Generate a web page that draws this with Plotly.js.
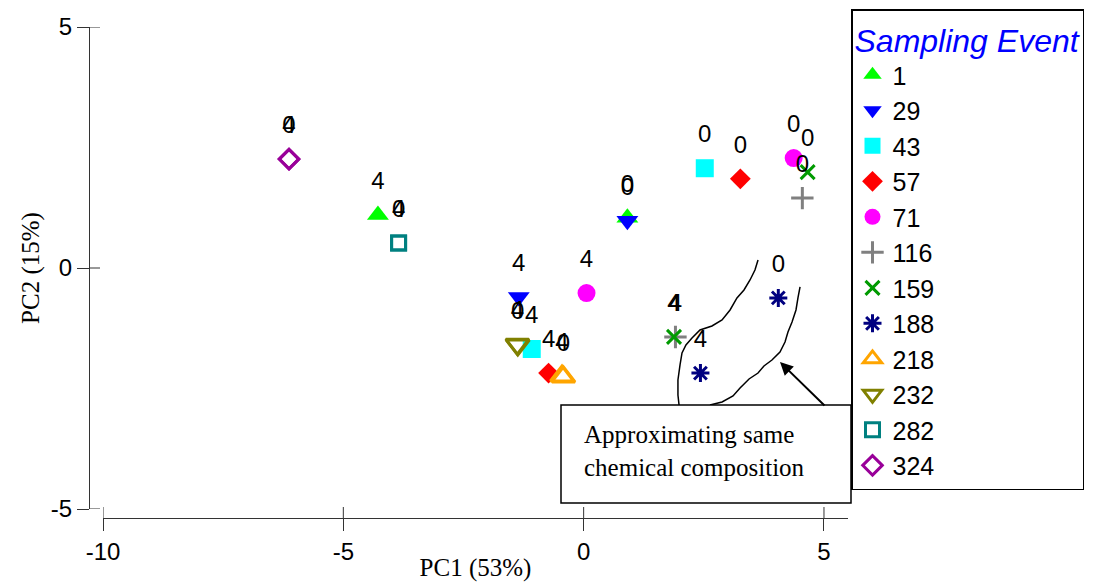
<!DOCTYPE html>
<html>
<head>
<meta charset="utf-8">
<script src="https://cdn.plot.ly/plotly-3.0.1.min.js"></script>
<style>html,body{margin:0;padding:0;background:#fff;}#chart{width:1097px;height:582px;}</style>
</head>
<body>
<div id="chart"></div>
<script>
// ---- data ----
const events   = ['1','29','43','57','71','116','159','188','218','232','282','324'];
const timeLabels = ['0','4'];
const pc1Day0 = [0.91, 0.91, 2.52, 3.26, 4.37, 4.55, 4.66, 4.05, -0.42, -1.37, -3.85, -6.13];
const pc2Day0 = [1.04, 0.98, 2.07, 1.85, 2.28, 1.45, 1.99, -0.62, -2.26, -1.60, 0.52, 2.26];
const pc1Day4 = [-4.28, -1.35, -1.08, -0.73, 0.06, 1.91, 1.88, 2.43, -0.45, -1.38, -3.85, -6.13];
const pc2Day4 = [1.10, -0.60, -1.68, -2.18, -0.52, -1.43, -1.43, -2.18, -2.24, -1.58, 0.52, 2.26];
const xTicks = [-10, -5, 0, 5];
const xTickText = ['-10', '-5', '0', '5'];
const yTicks = [-5, 0, 5];
const yTickText = ['-5', '0', '5'];

// ---- styles ----
const symbols = ['triangle-up','triangle-down','square','diamond','circle','cross-thin-open','x-thin-open','asterisk-open','triangle-up-open','triangle-down-open','square-open','diamond-open'];
const colors  = ['#00ff00','#0000ff','#00ffff','#ff0000','#ff00ff','#808080','#009a00','#000080','#ffa500','#808000','#008080','#990099'];
const sizes   = [19,19,18,16,18,16,14,15,20,20,14,15];
const lineW   = [0,0,0,0,0,3,3,3,3,3,3,3];

const W = 1097, H = 582;
const traces = events.map((ev, i) => ({
  type: 'scatter', mode: 'markers', name: ev, legendgroup: ev,
  x: [pc1Day0[i], pc1Day4[i]], y: [pc2Day0[i], pc2Day4[i]],
  marker: {symbol: symbols[i], size: sizes[i], color: colors[i],
           line: {color: colors[i], width: lineW[i]}},
  hoverinfo: 'x+y+name'
}));
const lx = [], ly = [], lt = [];
events.forEach((ev, i) => {
  lx.push(pc1Day0[i], pc1Day4[i]); ly.push(pc2Day0[i], pc2Day4[i]);
  lt.push(timeLabels[0], timeLabels[1]);
});
traces.push({type:'scatter', mode:'markers+text', x: lx, y: ly, text: lt,
  textposition: 'top center', showlegend: false, hoverinfo: 'skip',
  marker: {size: 30, opacity: 0}, textfont: {family: 'Liberation Sans, Arial', size: 24, color: '#000'}});

// pixel -> paper helper for decorations
const P = (x, y) => (x / W).toFixed(4) + ',' + (1 - y / H).toFixed(4);
const pathOf = pts => 'M' + pts.map(p => P(p[0], p[1])).join('L');
const leftCurve = [[758,260],[755,270],[750,280],[744,290],[737,298],[730,310],[722,320],[712,326],[700,330],[692,338],[686,345],[682,353],[680,365],[678,380],[678,395],[679,405]];
const rightCurve = [[800,287],[798,298],[796,310],[792,322],[788,332],[785,342],[780,352],[772,360],[764,366],[758,373],[749,379],[740,388],[733,396],[722,402],[710,405]];

const xPos = (H - 518) / H, yPos = 89 / W;
const shapes = [
  {type:'path', xref:'paper', yref:'paper', path: pathOf(leftCurve), line:{color:'#000', width:1.5}},
  {type:'path', xref:'paper', yref:'paper', path: pathOf(rightCurve), line:{color:'#000', width:1.5}},
  {type:'rect', xref:'paper', yref:'paper', x0: 561/W, x1: 851/W, y0: 1-503/H, y1: 1-405/H, line:{color:'#000', width:1.5}, fillcolor:'#fff'}
];
xTicks.forEach(v => shapes.push({type:'line', xref:'x', yref:'paper', x0:v, x1:v, y0:xPos, y1:xPos + 11/H, line:{color:'#333', width:1}}));
yTicks.forEach(v => shapes.push({type:'line', xref:'paper', yref:'y', x0:yPos, x1:yPos + 11/W, y0:v, y1:v, line:{color:'#333', width:1}}));

const axFont = {family:'Liberation Sans, Arial', size:24, color:'#000'};
const layout = {
  width: W, height: H, margin:{l:0,r:0,t:0,b:0}, paper_bgcolor:'#fff', plot_bgcolor:'rgba(0,0,0,0)',
  showlegend: true,
  xaxis: {domain:[103/W, 848/W], range:[-10, 5.5], anchor:'free', position:xPos,
    tickvals: xTicks, ticktext: xTickText, ticks:'outside', ticklen:12, tickcolor:'#333', showline:true, linecolor:'#333', linewidth:1.2,
    showgrid:false, zeroline:false, tickfont: axFont, automargin:false,
    title:{text:'PC1 (53%)', font:{family:'Liberation Serif, Times New Roman', size:25, color:'#000'}, standoff:2}},
  yaxis: {domain:[(H-509)/H, (H-27)/H], range:[-5, 5], anchor:'free', position:yPos,
    tickvals: yTicks, ticktext: yTickText, ticks:'outside', ticklen:12, tickcolor:'#333', showline:true, linecolor:'#333', linewidth:1.2,
    showgrid:false, zeroline:false, tickfont: axFont, automargin:false,
    title:{text:'PC2 (15%)', font:{family:'Liberation Serif, Times New Roman', size:25, color:'#000'}, standoff:3}},
  legend: {x: 851/W, y: 1 - 9/H, xanchor:'left', yanchor:'top', bordercolor:'#000', borderwidth:1.5, bgcolor:'#fff',
    font:{family:'Liberation Sans, Arial', size:25, color:'#000'}, tracegroupgap: 0,
    title:{text:'Sampling Event', font:{family:'Liberation Sans, Arial', size:32, color:'#0000ff', style:'italic'}}},
  shapes: shapes,
  annotations: [
    {xref:'paper', yref:'paper', x: 582/W, y: 1 - 451/H, xanchor:'left', yanchor:'middle', align:'left', showarrow:false,
     text:'Approximating same<br>chemical composition', font:{family:'Liberation Serif, Times New Roman', size:25, color:'#000'}},
    {xref:'paper', yref:'paper', x: 780/W, y: 1 - 362/H, ax: 46, ay: 45, text:'', showarrow:true,
     arrowhead:2, arrowsize:1.3, arrowwidth:2, arrowcolor:'#000'}
  ]
};
Plotly.newPlot('chart', traces, layout, {displayModeBar:false, staticPlot:true});
</script>
</body>
</html>
